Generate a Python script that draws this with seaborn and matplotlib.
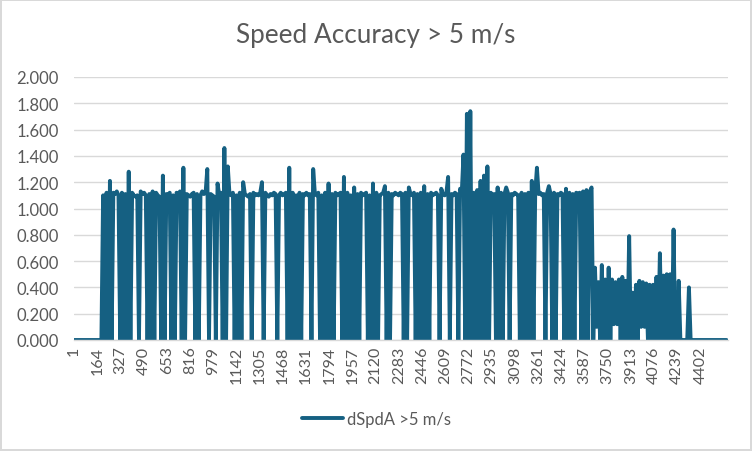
import matplotlib
matplotlib.use("Agg")
import numpy as np
import pandas as pd
import seaborn as sns
import matplotlib.pyplot as plt
from matplotlib.lines import Line2D

# ---------------- data ----------------
title = "Speed Accuracy > 5 m/s"
series_name = "dSpdA >5 m/s"
n_records = 4595          # number of records on the category axis
sample_step = 12          # one plotted value every 12 records (pixel resolution)

x_tick_labels = [1, 164, 327, 490, 653, 816, 979, 1142, 1305, 1468, 1631, 1794,
                 1957, 2120, 2283, 2446, 2609, 2772, 2935, 3098, 3261, 3424,
                 3587, 3750, 3913, 4076, 4239, 4402]
y_ticks = [0.0, 0.2, 0.4, 0.6, 0.8, 1.0, 1.2, 1.4, 1.6, 1.8, 2.0]

spd_lead = [0, 0, 0, 0, 0, 0, 0, 0, 0, 0, 0, 0, 0, 0, 0, 0, 0]

spd_a = [1.10, 0, 1.12, 0, 1.21, 0, 1.12, 1.11, 1.13, 1.10,
         0, 1.12, 0, 1.11, 0, 1.28, 0, 1.12, 1.10, 1.09,
         1.10, 0, 1.13, 1.11, 1.12, 1.10, 0, 1.11, 0, 1.13,
         0, 1.12, 1.10, 1.09, 0, 1.25, 0, 1.11, 1.10, 1.12,
         0, 1.10, 0, 1.12, 1.10, 1.13, 0, 1.31, 0, 1.11,
         1.10, 1.09, 1.11, 1.12, 0, 1.11, 0, 1.10, 1.13, 1.11,
         1.12, 1.30, 0, 1.11, 1.10, 1.09, 0, 1.19, 1.10, 1.12,
         0, 1.46, 0, 1.32, 1.11, 1.10, 1.12, 0, 1.10, 0,
         1.12, 0, 1.20]

spd_b = [1.11, 1.10, 1.09, 1.11, 0, 1.12, 1.10, 1.11, 1.10, 1.12,
         1.20, 0, 1.12, 1.10, 1.09, 1.11, 1.10, 1.12, 1.11, 0,
         1.10, 1.12, 1.10, 1.11, 1.12, 0, 1.31, 0, 1.12, 0,
         1.10, 0, 1.12, 0, 1.11, 1.10, 1.12, 1.10, 1.11, 0,
         1.30, 1.11, 1.10, 1.12, 0, 1.10, 0, 1.12, 0, 1.19,
         0, 1.11, 0, 1.12, 1.10, 1.11, 1.12, 0, 1.24, 0,
         1.12, 0, 1.10, 0, 1.16, 0, 1.11, 0, 1.12, 1.10,
         1.11, 1.12, 0, 1.10, 0, 1.19, 0, 1.12, 0, 1.10,
         1.11, 1.12, 1.17, 0, 1.12, 0, 1.11, 1.10, 1.12, 1.11,
         1.10, 1.12, 1.11, 0, 1.12, 0, 1.16, 1.11, 1.10, 1.12]

spd_c = [0, 1.11, 0, 1.12, 0, 1.17, 0, 1.11, 0, 1.12,
         1.10, 1.11, 1.12, 1.10, 0, 1.15, 1.11, 1.10, 1.12, 1.24,
         0, 1.11, 1.10, 1.12, 1.11, 0, 1.15, 1.12, 1.41, 0,
         1.72, 0, 1.74, 0, 1.12, 0, 1.14, 0, 1.21, 0,
         1.25, 0, 1.32, 0, 1.12, 1.10, 1.11, 0, 1.16, 0,
         1.12, 0, 1.11, 1.16, 1.12, 0, 1.11, 1.10, 1.12, 1.11,
         1.10, 0, 1.12, 0, 1.11, 0, 1.12, 0, 1.21, 0,
         1.12, 1.31, 1.11, 1.12, 1.10, 1.11, 0, 1.12, 1.17, 1.11,
         0, 1.12, 0, 1.11, 1.10, 1.12, 1.11, 0, 1.15, 0,
         1.12, 0, 1.11, 0, 1.12, 1.11, 1.12, 0, 1.13, 0,
         1.14, 0, 1.13, 1.16, 0]

spd_low = [0.55, 0.10, 0.44, 0, 0.57, 0, 0.46, 0, 0.55, 0,
           0.46, 0.12, 0.44, 0.12, 0.46, 0, 0.48, 0, 0.45, 0,
           0.79, 0, 0.36, 0, 0.42, 0, 0.45, 0.10, 0.44, 0.10,
           0.43, 0, 0.42, 0, 0.42, 0, 0.48, 0, 0.66, 0,
           0.49, 0, 0.50, 0, 0.50, 0, 0.84, 0, 0, 0.45,
           0, 0, 0, 0, 0, 0.40]

spd_tail = [0, 0, 0, 0, 0, 0, 0, 0, 0, 0, 0,
            0, 0, 0, 0, 0, 0, 0, 0, 0, 0, 0]

values = spd_lead + spd_a + spd_b + spd_c + spd_low + spd_tail
record = 1 + sample_step * np.arange(len(values))
df = pd.DataFrame({"record": record, "value": values})

# ---------------- style ----------------
line_color = "#156082"
text_color = "#595959"
grid_color = "#d9d9d9"

sns.set_theme(style="white")
plt.rcParams["font.family"] = ["Lato", "DejaVu Sans"]
plt.rcParams["path.simplify"] = False

W, H = 752, 452
fig = plt.figure(figsize=(W / 100, H / 100), dpi=100)
fig.patch.set_facecolor("white")
fig.patch.set_edgecolor(grid_color)
fig.patch.set_linewidth(1.5)

left, right, top, bottom = 74, 728, 78, 341
ax = fig.add_axes([left / W, 1 - bottom / H, (right - left) / W, (bottom - top) / H])

sns.lineplot(data=df, x="record", y="value", ax=ax, color=line_color,
             linewidth=2.8, errorbar=None, estimator=None, sort=False,
             legend=False)
for ln in ax.lines:
    ln.set_solid_capstyle("round")
    ln.set_solid_joinstyle("round")

ax.set_xlim(0.5, n_records + 0.5)
ax.set_ylim(0, 2.0)
ax.set_yticks(y_ticks)
ax.set_yticklabels([f"{v:.3f}" for v in y_ticks])
ax.set_xticks(x_tick_labels)
ax.set_xticklabels([str(v) for v in x_tick_labels], rotation=90, va="top", ha="center")
ax.tick_params(axis="y", length=0, pad=11, labelsize=12, labelcolor=text_color)
ax.tick_params(axis="x", length=0, pad=4, labelsize=11.5, labelcolor=text_color)
ax.set_xlabel("")
ax.set_ylabel("")
ax.grid(axis="y", color=grid_color, linewidth=1.0)
ax.grid(axis="x", visible=False)
ax.set_axisbelow(True)
for s in ["left", "right", "top"]:
    ax.spines[s].set_visible(False)
ax.spines["bottom"].set_color(grid_color)
ax.spines["bottom"].set_linewidth(1.0)

fig.text(0.5, 1 - 36 / H, title, ha="center", va="center", fontsize=18.8, color=text_color)

handle = Line2D([], [], color=line_color, linewidth=2.8, solid_capstyle="round")
fig.legend([handle], [series_name], loc="center", bbox_to_anchor=(0.5, 1 - 420 / H),
           frameon=False, fontsize=12, labelcolor=text_color, handlelength=2.5,
           handletextpad=0.2)

fig.savefig("out.png", dpi=100)
